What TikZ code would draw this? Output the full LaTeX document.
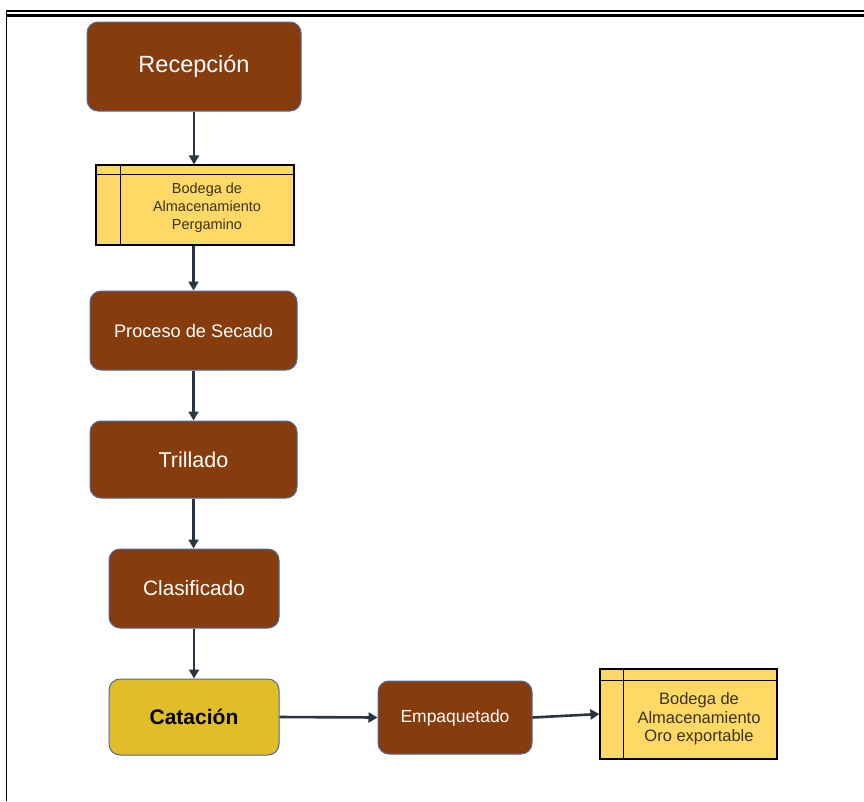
\documentclass[tikz,border=0pt]{standalone}
\usepackage{fontspec}
\setmainfont{Liberation Sans}
\usetikzlibrary{arrows.meta}
\definecolor{brownbox}{HTML}{873C0D}
\definecolor{boxedge}{HTML}{4A6A9C}
\definecolor{goldbox}{HTML}{E1BE27}
\definecolor{storebox}{HTML}{FFD966}
\definecolor{arrowcol}{HTML}{2B3442}
\definecolor{storetext}{HTML}{3A3320}
\tikzset{
  procbox/.style={draw=boxedge, line width=1pt, fill=brownbox, rounded corners=11pt,
    text=white, align=center, inner sep=0pt},
  goldproc/.style={procbox, fill=goldbox, text=black},
  storebox/.style={draw=black, line width=1.2pt, fill=storebox, inner sep=0pt},
  storelabel/.style={text=storetext, align=center},
  flow/.style={draw=arrowcol, line width=2.6pt, -{Triangle[length=9pt,width=10pt]}},
  frame/.style={draw=black}
}
\begin{document}
\begin{tikzpicture}[x=1pt,y=-1pt]
\useasboundingbox (0,0) rectangle (864,801);
% frame
\draw[frame, line width=1.6pt] (6,11) -- (864,11);
\draw[frame, line width=2.6pt] (6,15.5) -- (864,15.5);
\draw[frame, line width=1pt] (6.5,10) -- (6.5,801);
% nodes
\node[procbox, minimum width=214pt, minimum height=89pt, font=\fontsize{23.5}{27}\selectfont] (rec) at (194,66.5) {Recepción};
\node[storebox, minimum width=198pt, minimum height=80pt] (bod1) at (195,205) {};
\draw[black, line width=1.1pt] (bod1.north west) ++(25,0) -- ++(0,80);
\draw[black, line width=1.1pt] (bod1.north west) ++(0,10) -- ++(198,0);
\node[storelabel, font=\fontsize{14.5}{18}\selectfont] (bod1t) at (207,208) {Bodega de\\Almacenamiento\\Pergamino};
\node[procbox, minimum width=207pt, minimum height=79pt, font=\fontsize{18.2}{21}\selectfont] (sec) at (193.5,330.5) {Proceso de Secado};
\node[procbox, minimum width=207pt, minimum height=77pt, font=\fontsize{21.5}{25}\selectfont] (tri) at (193.5,459.5) {Trillado};
\node[procbox, minimum width=170pt, minimum height=79pt, font=\fontsize{20.8}{24}\selectfont] (cla) at (194,588.5) {Clasificado};
\node[goldproc, minimum width=170pt, minimum height=76pt, font=\bfseries\fontsize{21}{25}\selectfont] (cat) at (194,717) {Catación};
\node[procbox, minimum width=154pt, minimum height=73pt, font=\fontsize{17.5}{21}\selectfont] (emp) at (455,717.5) {Empaquetado};
\node[storebox, minimum width=177pt, minimum height=90pt] (bod2) at (688.5,714) {};
\draw[black, line width=1.1pt] (bod2.north west) ++(24,0) -- ++(0,90);
\draw[black, line width=1.1pt] (bod2.north west) ++(0,12) -- ++(177,0);
\node[storelabel, font=\fontsize{16.5}{18.5}\selectfont] (bod2t) at (699,719) {Bodega de\\Almacenamiento\\Oro exportable};
% connectors
\draw[flow] (rec.south) -- (bod1.north -| rec.south);
\draw[flow] (bod1.south -| sec.north) -- (sec.north);
\draw[flow] (sec.south) -- (tri.north);
\draw[flow] (tri.south) -- (tri.south |- cla.north);
\draw[flow] (cla.south) -- (cat.north);
\draw[flow] (cat.east) -- (emp.west);
\draw[flow] (emp.east) -- (bod2.west);
\end{tikzpicture}
\end{document}
